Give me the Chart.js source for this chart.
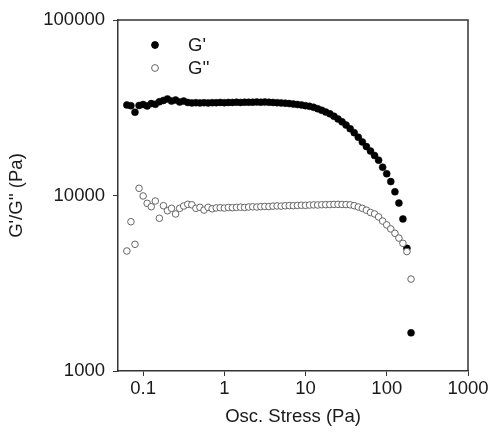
<!DOCTYPE html>
<html>
<head>
<meta charset="utf-8">
<script src="https://cdn.jsdelivr.net/npm/chart.js@4"></script>
<style>
  html, body { margin: 0; padding: 0; background: #fff; overflow: hidden; }
</style>
</head>
<body>
<canvas id="chart" width="492" height="438"></canvas>
<script>
// oscillatory stress sweep, Pa
const stress = [
  0.063, 0.0707, 0.0793, 0.089, 0.0999, 0.112, 0.1258, 0.1411, 0.1583, 0.1777,
  0.1992, 0.2235, 0.2508, 0.2814, 0.3157, 0.3542, 0.3974, 0.4459, 0.5003, 0.5613,
  0.630, 0.707, 0.793, 0.889, 0.998, 1.12, 1.257, 1.41, 1.58, 1.774,
  1.99, 2.235, 2.51, 2.81, 3.15, 3.54, 3.97, 4.46, 5.00, 5.61,
  6.30, 7.07, 7.93, 8.89, 9.98, 11.2, 12.57, 14.1, 15.8, 17.7,
  19.9, 22.35, 25.1, 28.1, 31.5, 35.4, 39.7, 44.6, 50.0, 56.1,
  63.0, 70.7, 79.3, 88.9, 99.8, 112, 126, 141, 158, 177, 199
];

const gPrime = [
  32800, 32500, 29800, 32600, 33000, 32400, 33400, 33100, 34200, 34800,
  35500, 34500, 35000, 34100, 34500, 33900, 33700, 33800, 33700, 33800,
  33700, 33800, 33800, 33900, 33800, 33900, 33900, 34000, 33900, 34000,
  34000, 34000, 34100, 34000, 34100, 34000, 33900, 33800, 33700, 33600,
  33400, 33200, 33000, 32800, 32500, 32200, 31800, 31200, 30600, 29900,
  29200, 28300, 27300, 26300, 25200, 24000, 22800, 21500, 20200, 19000,
  17900, 16900, 15900, 14500, 13300, 12000, 10500, 9050, 7350, 5000, 1650
];

const gDoublePrime = [
  4830, 7090, 5270, 10990, 9940, 9020, 8630, 9300, 7420, 8750,
  8190, 8450, 7850, 8450, 8710, 8910, 8850, 8450, 8560, 8260,
  8560, 8400, 8500, 8520, 8480, 8550, 8520, 8560, 8580, 8550,
  8600, 8620, 8600, 8640, 8660, 8650, 8700, 8720, 8700, 8740,
  8760, 8750, 8780, 8800, 8790, 8820, 8840, 8830, 8860, 8870,
  8880, 8900, 8900, 8890, 8880, 8850, 8750, 8600, 8450, 8250,
  8000, 7850, 7550, 7150, 6800, 6450, 6090, 5720, 5340, 4790, 3340
];

const xTicks = [0.1, 1, 10, 100, 1000];
const yTicks = [1000, 10000, 100000];

const FONT = "'Liberation Sans', Arial, sans-serif";
const FSIZE = 18.5;
const AXIS = '#333';
const TEXT = '#1a1a1a';

// box around plot + legend inside the top-left corner
const frame = {
  id: 'frame',
  afterDraw(chart) {
    const { ctx, chartArea: a } = chart;
    ctx.save();
    ctx.strokeStyle = AXIS;
    ctx.lineWidth = 1.5;
    ctx.beginPath();
    ctx.moveTo(a.left, a.top);
    ctx.lineTo(a.right, a.top);
    ctx.lineTo(a.right, a.bottom);
    ctx.stroke();

    const items = [
      { text: "G'", fill: '#000', stroke: '#000' },
      { text: "G''", fill: '#fff', stroke: '#666' }
    ];
    ctx.font = FSIZE + 'px ' + FONT;
    ctx.textBaseline = 'middle';
    items.forEach((it, i) => {
      const cy = a.top + 25 + i * 23;
      ctx.beginPath();
      ctx.arc(a.left + 37, cy, 3.4, 0, Math.PI * 2);
      ctx.fillStyle = it.fill;
      ctx.fill();
      ctx.lineWidth = 1;
      ctx.strokeStyle = it.stroke;
      ctx.stroke();
      ctx.fillStyle = TEXT;
      ctx.fillText(it.text, a.left + 70, cy + 1);
    });
    ctx.restore();
  }
};

new Chart(document.getElementById('chart'), {
  type: 'scatter',
  data: {
    datasets: [
      {
        label: "G'",
        data: stress.map((x, i) => ({ x: x, y: gPrime[i] })),
        pointRadius: 3.5,
        pointBackgroundColor: '#000',
        pointBorderColor: '#000',
        pointBorderWidth: 0.5,
        order: 1
      },
      {
        label: "G''",
        data: stress.map((x, i) => ({ x: x, y: gDoublePrime[i] })),
        pointRadius: 3.3,
        pointBackgroundColor: '#fff',
        pointBorderColor: '#666',
        pointBorderWidth: 1,
        order: 0
      }
    ]
  },
  options: {
    responsive: false,
    animation: false,
    layout: { padding: { top: 20, right: 24, left: 0, bottom: 0 } },
    plugins: {
      legend: { display: false },
      tooltip: { enabled: false }
    },
    scales: {
      x: {
        type: 'logarithmic',
        min: 0.049,
        max: 1000,
        afterBuildTicks: s => { s.ticks = xTicks.map(v => ({ value: v })); },
        afterFit: s => { s.height = 67; },
        border: { color: AXIS, width: 1.5 },
        grid: { drawOnChartArea: false, tickLength: 5, tickColor: AXIS },
        ticks: {
          color: TEXT,
          font: { family: FONT, size: FSIZE },
          padding: 2,
          maxRotation: 0,
          callback: v => String(v)
        },
        title: {
          display: true,
          text: 'Osc. Stress (Pa)',
          color: TEXT,
          font: { family: FONT, size: FSIZE },
          padding: { top: 0, bottom: 10 }
        }
      },
      y: {
        type: 'logarithmic',
        min: 1000,
        max: 100000,
        afterBuildTicks: s => { s.ticks = yTicks.map(v => ({ value: v })); },
        afterFit: s => { s.width = 118; },
        border: { color: AXIS, width: 1.5 },
        grid: { drawOnChartArea: false, tickLength: 5, tickColor: AXIS },
        ticks: {
          color: TEXT,
          font: { family: FONT, size: FSIZE },
          padding: 8,
          callback: v => String(v)
        },
        title: {
          display: true,
          text: "G'/G'' (Pa)",
          color: TEXT,
          font: { family: FONT, size: FSIZE },
          padding: { top: 6, bottom: 0 }
        }
      }
    }
  },
  plugins: [frame]
});
</script>
</body>
</html>
